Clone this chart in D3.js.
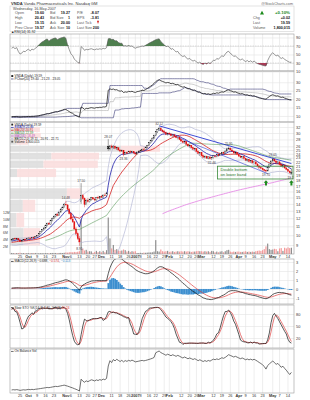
<!DOCTYPE html>
<html><head><meta charset="utf-8">
<script src="https://cdn.jsdelivr.net/npm/d3@7/dist/d3.min.js"></script>
<style>
html,body{margin:0;padding:0;background:#fff}
svg{display:block}
text{font-family:"Liberation Sans","DejaVu Sans",Arial,sans-serif}
</style></head><body>
<svg id="chart" width="310" height="400"></svg>
<script>
// ================= DATA =================
const preCloses=[9.05,8.92,8.98,9.10,9.02,8.88,8.95,9.08,9.15,9.04,9.12,9.20,9.11,9.05,9.18,9.25,9.16,9.22,9.30,9.21,9.15,9.26,9.34,9.28,9.20,9.31,9.40,9.36,9.45];
const preVolumes=[0.30,0.25,0.28,0.33,0.24,0.29,0.22,0.31,0.35,0.23,0.27,0.30,0.26,0.22,0.32,0.34,0.25,0.28,0.31,0.24,0.26,0.29,0.33,0.27,0.23,0.30,0.36,0.28,0.32];
const opens=[9.45,9.58,9.66,9.60,9.68,9.50,9.36,9.42,9.55,9.52,9.64,9.70,9.62,9.76,9.72,9.86,9.95,10.15,10.40,10.62,10.80,11.10,11.38,11.25,11.70,12.00,12.25,12.50,12.38,12.82,13.20,13.45,13.95,13.85,13.20,12.60,11.90,11.55,10.70,10.15,9.65,14.40,15.30,14.80,13.90,14.50,14.35,14.70,14.95,14.75,14.60,15.00,14.90,15.15,15.05,15.40,15.30,26.00,25.30,26.10,25.70,26.00,25.45,25.60,25.00,24.70,24.95,23.90,24.30,24.10,24.60,24.40,24.65,24.20,23.95,24.45,24.60,24.90,25.20,25.10,25.70,26.30,27.00,27.70,28.40,29.30,30.40,31.10,31.50,30.90,30.50,30.10,29.60,29.90,29.70,29.10,29.40,28.95,28.50,28.70,27.95,27.50,27.10,27.35,26.60,26.10,26.30,25.60,25.20,25.40,24.60,24.10,24.30,23.50,23.10,23.40,22.90,23.20,22.75,23.00,23.45,23.30,23.75,23.50,23.95,24.30,24.10,24.70,25.30,25.50,25.00,24.70,24.20,24.35,23.80,23.40,23.10,23.30,22.80,22.40,22.60,22.10,22.30,21.80,22.00,21.50,21.05,20.70,20.55,20.25,20.05,19.95,20.80,21.50,22.20,22.60,22.20,21.80,22.00,21.40,21.00,21.20,20.60,20.30,19.90,19.60];
const highs=[9.62,9.70,9.75,9.72,9.70,9.55,9.48,9.60,9.66,9.70,9.75,9.78,9.80,9.85,9.90,10.00,10.20,10.45,10.70,10.90,11.20,11.45,11.50,11.80,12.10,12.35,12.60,12.70,12.90,13.30,13.60,14.10,14.48,13.95,13.40,12.80,12.20,11.60,10.90,10.40,9.90,17.50,15.60,15.00,14.70,14.90,14.80,15.10,15.05,15.00,15.10,15.30,15.25,15.40,15.50,15.70,15.90,28.07,26.40,26.50,26.30,26.20,25.90,25.70,25.20,25.10,25.00,24.50,24.60,24.80,24.90,24.80,24.70,24.40,24.60,24.90,25.10,25.40,25.60,25.90,26.40,27.20,27.90,28.60,29.50,30.60,31.40,32.12,31.90,31.30,31.00,30.50,30.10,30.30,29.90,29.60,29.70,29.20,28.90,28.80,28.20,27.80,27.60,27.50,26.90,26.50,26.40,25.90,25.60,25.50,24.90,24.50,24.40,23.80,23.60,23.50,23.40,23.40,23.20,23.60,23.70,23.90,24.00,24.10,24.50,24.60,24.90,25.60,25.95,25.70,25.40,24.90,24.60,24.50,24.00,23.70,23.50,23.40,23.00,22.80,22.70,22.50,22.40,22.20,22.10,21.70,21.30,21.00,20.70,20.40,20.30,20.90,21.60,22.40,23.05,22.80,22.50,22.30,22.10,21.70,21.40,21.30,20.90,20.50,20.10,20.43];
const lows=[9.40,9.50,9.55,9.52,9.45,9.30,9.28,9.38,9.46,9.48,9.55,9.58,9.60,9.65,9.70,9.80,9.90,10.10,10.35,10.50,10.75,11.00,11.15,11.20,11.60,11.90,12.10,12.25,12.30,12.75,13.05,13.40,13.70,13.10,12.50,11.80,11.40,10.60,10.00,9.50,8.91,14.00,14.60,13.50,13.80,14.20,14.20,14.50,14.60,14.40,14.50,14.80,14.70,14.90,14.95,15.20,15.20,24.80,24.90,25.40,25.30,25.20,25.00,24.80,24.40,24.50,23.36,23.70,23.90,24.00,24.20,24.20,24.00,23.70,23.80,24.20,24.30,24.60,24.90,25.00,25.50,26.10,26.80,27.40,28.20,29.10,30.00,30.70,30.60,30.20,29.80,29.30,29.20,29.40,28.90,28.70,28.80,28.30,28.00,27.80,27.30,26.90,26.80,26.40,25.90,25.70,25.40,25.00,24.80,24.40,23.90,23.50,23.30,22.90,22.80,22.70,22.60,22.50,22.46,22.80,23.00,23.10,23.30,23.40,23.80,23.90,24.00,24.50,25.00,24.80,24.50,24.00,23.80,23.60,23.20,22.90,22.70,22.60,22.20,22.10,21.90,21.80,21.60,21.50,21.30,20.90,20.50,20.30,20.00,19.85,19.70,19.90,20.60,21.40,22.00,22.00,21.60,21.50,21.20,20.80,20.60,20.40,20.10,19.70,19.40,19.15];
const closes=[9.58,9.66,9.60,9.68,9.50,9.36,9.42,9.55,9.52,9.64,9.70,9.62,9.76,9.72,9.86,9.95,10.15,10.40,10.62,10.80,11.10,11.38,11.25,11.70,12.00,12.25,12.50,12.38,12.82,13.20,13.45,13.95,13.85,13.20,12.60,11.90,11.55,10.70,10.15,9.65,9.30,15.30,14.80,13.90,14.50,14.35,14.70,14.95,14.75,14.60,15.00,14.90,15.15,15.05,15.40,15.30,15.75,25.30,26.10,25.70,26.00,25.45,25.60,25.00,24.70,24.95,23.90,24.30,24.10,24.60,24.40,24.65,24.20,23.95,24.45,24.60,24.90,25.20,25.10,25.70,26.30,27.00,27.70,28.40,29.30,30.40,31.10,31.50,30.90,30.50,30.10,29.60,29.90,29.70,29.10,29.40,28.95,28.50,28.70,27.95,27.50,27.10,27.35,26.60,26.10,26.30,25.60,25.20,25.40,24.60,24.10,24.30,23.50,23.10,23.40,22.90,23.20,22.75,23.00,23.45,23.30,23.75,23.50,23.95,24.30,24.10,24.70,25.30,25.50,25.00,24.70,24.20,24.35,23.80,23.40,23.10,23.30,22.80,22.40,22.60,22.10,22.30,21.80,22.00,21.50,21.05,20.70,20.55,20.25,20.05,19.95,20.80,21.50,22.20,22.60,22.20,21.80,22.00,21.40,21.00,21.20,20.60,20.30,19.90,19.57,19.59];
const volumes=[0.30,0.25,0.22,0.28,0.30,0.35,0.24,0.27,0.21,0.26,0.25,0.22,0.28,0.24,0.30,0.18,0.20,0.22,0.24,0.20,0.26,0.25,0.20,0.28,0.30,0.26,0.30,0.22,0.30,0.32,0.28,0.35,0.45,0.40,0.50,0.55,0.48,0.60,0.55,0.65,0.80,10.0,1.6,1.0,1.2,0.7,0.8,0.75,0.35,0.6,0.9,0.55,0.8,0.5,0.9,0.5,1.1,10.5,4.5,1.6,2.6,1.2,1.4,1.0,0.9,1.0,1.3,1.1,0.7,0.9,0.6,0.8,0.7,0.8,0.30,0.30,0.35,0.30,0.40,0.35,0.40,0.45,0.45,0.50,0.70,4.0,0.80,0.70,1.3,0.8,0.7,0.8,0.9,0.6,0.7,0.8,0.6,0.7,0.8,0.7,0.8,0.7,0.8,0.7,0.8,0.7,0.6,0.7,0.7,0.8,0.9,0.8,0.8,0.7,0.8,0.7,0.8,0.6,0.9,0.8,0.5,0.7,0.5,0.7,0.8,0.5,0.8,1.1,1.2,0.7,0.6,0.7,0.6,0.7,0.7,0.6,0.6,0.7,0.8,0.6,0.7,0.6,0.7,0.6,0.8,0.9,1.0,0.9,1.1,1.4,2.2,3.0,1.4,1.2,1.3,1.5,1.4,0.8,1.6,1.7,0.9,1.8,1.6,1.9,1.7,1.800015];
const ma200Start=89;
const ma200=[12.60,12.70,12.80,12.90,12.99,13.08,13.17,13.26,13.35,13.44,13.53,13.62,13.71,13.80,13.89,13.97,14.05,14.13,14.21,14.29,14.37,14.45,14.53,14.61,14.68,14.76,14.83,14.91,14.98,15.06,15.13,15.21,15.28,15.36,15.43,15.51,15.58,15.66,15.73,15.81,15.88,15.96,16.03,16.11,16.18,16.25,16.32,16.39,16.45,16.52,16.59,16.66,16.72,16.79,16.86,16.93,16.99,17.06,17.13,17.20,17.26,17.33,17.40,17.47,17.53,17.61,17.69,17.77,17.85,17.93,18.01,18.09,18.17,18.25,18.33,18.41,18.49];
const holidays=["2006-11-23","2006-12-25","2007-01-01","2007-01-02","2007-01-15","2007-02-19","2007-04-06"];
const xTicks=[["2006-09-25","25"],["2006-10-02","Oct"],["2006-10-09","9"],["2006-10-16","16"],["2006-10-23","23"],["2006-11-01","Nov"],["2006-11-06","6"],["2006-11-13","13"],["2006-11-20","20"],["2006-11-27","27"],["2006-12-01","Dec"],["2006-12-11","11"],["2006-12-18","18"],["2006-12-26","26"],["2007-01-03","2007"],["2007-01-08","8"],["2007-01-16","16"],["2007-01-22","22"],["2007-01-29","29"],["2007-02-01","Feb"],["2007-02-12","12"],["2007-02-20","20"],["2007-02-26","26"],["2007-03-01","Mar"],["2007-03-12","12"],["2007-03-19","19"],["2007-03-26","26"],["2007-04-02","Apr"],["2007-04-09","9"],["2007-04-16","16"],["2007-04-23","23"],["2007-05-01","May"],["2007-05-07","7"],["2007-05-14","14"]];
const priceTicks=[32,30,28,26,25,24,23,22,21,20,19,18,17,16,15,14,13,12,11,10,9];
const pcTicks=[30,25,20,15,10];
const rsiTicks=[90,70,50,30,10];
const macdTicks=[3,2,1,0,-1];
const stoTicks=[80,50,20];
const volTicks=[2,4,6,8,10,12];
const hiLoMarks=[[32,"h"],[40,"l"],[41,"h"],[57,"h"],[66,"l"],[87,"h"],[118,"l"],[128,"h"],[150,"l"],[154,"h"],[165,"l"]];
const trendLines=[[[87,32.4],[165,21.6]],[[87,31.0],[151,19.4]]];
const arrowDays=[150,165];
const noteLines=["Double bottom","on lower band"];
const hdrTitle=["VNDA"," Vanda Pharmaceuticals Inc.  Nasdaq GM"];
const hdrDate="Wednesday, 16-May-2007";
const hdrRows=[["Open","19.60","Bid","19.27","P/E","-8.07"],["High","20.43","Bid Size","1","EPS","-3.81"],["Low","19.15","Ask","20.00","Last Tick",""],["Prev Close","19.57","Ask Size","10","Last Size","200"]];
const hdrRight=[["","+0.10%"],["Chg","+0.02"],["Last","19.59"],["Volume","1,800,015"]];

// ================= SETUP =================
const svg=d3.select("#chart");
const L=10,R=294;
const N=closes.length,P=preCloses.length;
const fmtD=d3.utcFormat("%Y-%m-%d"),parse=d3.utcParse("%Y-%m-%d");
const hol=new Set(holidays);
const dates=d3.utcDays(parse("2006-09-18"),parse("2007-05-17")).filter(d=>d.getUTCDay()%6!==0&&!hol.has(fmtD(d))).map(fmtD).slice(0,N);
const x=d3.scaleBand().domain(d3.range(N)).range([11,292]).paddingInner(0.3);
const cx=i=>x(i)+x.bandwidth()/2;
const tickIdx=xTicks.map(t=>[dates.indexOf(t[0]),t[1]]).filter(t=>t[0]>=0);

// ---------- indicators ----------
const fc=preCloses.concat(closes),fh=preCloses.concat(highs),fl=preCloses.concat(lows);
function sma(a,n){return a.map((v,i)=>{if(i<n-1)return null;const w=a.slice(i-n+1,i+1);if(w.some(z=>z==null))return null;return d3.mean(w);});}
function ema(a,n){const k=2/(n+1);let e=null;return a.map(v=>{if(v==null)return null;e=e==null?v:e+k*(v-e);return e;});}
function rsiCalc(a,n){const o=a.map(()=>null);let g=0,l=0;for(let i=1;i<a.length;i++){const d=a[i]-a[i-1],G=Math.max(d,0),Lo=Math.max(-d,0);if(i<=n){g+=G;l+=Lo;if(i===n){g/=n;l/=n;o[i]=100-100/(1+g/(l||1e-9));}}else{g=(g*(n-1)+G)/n;l=(l*(n-1)+Lo)/n;o[i]=100-100/(1+g/(l||1e-9));}}return o;}
const disp=a=>a.slice(P);
const ema9=disp(ema(fc,9)),ma20=disp(sma(fc,20)),ma50=disp(sma(fc,50));
const bbU=[],bbL=[];
fc.forEach((v,i)=>{if(i<19){bbU.push(null);bbL.push(null);return;}const w=fc.slice(i-19,i+1),m=d3.mean(w),sd=Math.sqrt(d3.mean(w,z=>(z-m)*(z-m)));bbU.push(m+2*sd);bbL.push(m-2*sd);});
const bbUp=disp(bbU),bbLo=disp(bbL);
const rsi=disp(rsiCalc(fc,14));
const e12=ema(fc,12),e26=ema(fc,26);
const macdF=fc.map((v,i)=>e12[i]-e26[i]);
const sigF=ema(macdF,9);
const macd=disp(macdF),sig=disp(sigF),hist=macd.map((v,i)=>v-sig[i]);
const rawK=fc.map((c,i)=>{if(i<13)return null;const hh=d3.max(fh.slice(i-13,i+1)),ll=d3.min(fl.slice(i-13,i+1));return hh===ll?50:(c-ll)/(hh-ll)*100;});
const slowKF=sma(rawK,3),slowDF=sma(slowKF,3);
const slowK=disp(slowKF),slowD=disp(slowDF);
const pcU=[],pcL=[];
for(let i=0;i<fc.length;i++){if(i<20){pcU.push(null);pcL.push(null);continue;}pcU.push(d3.max(fh.slice(i-20,i)));pcL.push(d3.min(fl.slice(i-20,i)));}
const pcUp=disp(pcU),pcLo=disp(pcL),pcMid=pcUp.map((v,i)=>v==null?null:(v+pcLo[i])/2);
const obv=[];{let s=0;closes.forEach((c,i)=>{const p=i===0?preCloses[P-1]:closes[i-1];if(c>p)s+=volumes[i];else if(c<p)s-=volumes[i];obv.push(s);});}
const ma200Full=closes.map((c,i)=>i>=ma200Start?ma200[i-ma200Start]:null);

// ---------- helpers ----------
const defs=svg.append("defs");
let clipN=0;
function panel(top,bot){
  const id="cp"+(clipN++);
  defs.append("clipPath").attr("id",id).append("rect").attr("x",L).attr("y",top).attr("width",R-L).attr("height",bot-top);
  const g=svg.append("g");
  g.selectAll("line.v").data(tickIdx).join("line").attr("x1",d=>cx(d[0])).attr("x2",d=>cx(d[0])).attr("y1",top).attr("y2",bot).attr("stroke","#e2e2e2").attr("stroke-width",0.6);
  const content=svg.append("g").attr("clip-path",`url(#${id})`);
  const frame=()=>svg.append("rect").attr("x",L).attr("y",top).attr("width",R-L).attr("height",bot-top).attr("fill","none").attr("stroke","#9c9c9c").attr("stroke-width",0.6);
  return {g,content,frame,top,bot};
}
function hGrid(p,y,ticks,fmt){
  p.g.append("g").attr("transform",`translate(${L},0)`).call(d3.axisLeft(y).tickValues(ticks).tickSize(-(R-L)).tickFormat(""))
    .call(a=>a.select(".domain").remove()).call(a=>a.selectAll("line").attr("stroke","#e2e2e2").attr("stroke-width",0.6));
  svg.append("g").attr("transform",`translate(${R},0)`).call(d3.axisRight(y).tickValues(ticks).tickSize(0).tickPadding(2).tickFormat(fmt||(d=>d)))
    .call(a=>a.select(".domain").remove()).call(a=>a.selectAll("text").attr("font-size",3.9).attr("fill","#333").attr("font-family","Liberation Sans, Arial, sans-serif"));
}
function line(g,vals,y,color,w,dash){
  const p=g.append("path").datum(vals.map((v,i)=>[i,v])).attr("fill","none").attr("stroke",color).attr("stroke-width",w).attr("stroke-linejoin","round")
    .attr("d",d3.line().defined(d=>d[1]!=null&&!isNaN(d[1])).x(d=>cx(d[0])).y(d=>y(d[1])));
  if(dash)p.attr("stroke-dasharray",dash);
  return p;
}
function legend(yy,items,fs){
  fs=fs||3.4;
  items.forEach((it,k)=>{
    const yb=yy+k*(fs*0.92);
    if(it.sq){svg.append("rect").attr("x",11.3).attr("y",yb-fs*0.6).attr("width",fs*0.6).attr("height",fs*0.6).attr("fill",it.sq);}
    else if(it.ln){svg.append("line").attr("x1",11).attr("x2",13.6).attr("y1",yb-fs*0.3).attr("y2",yb-fs*0.3).attr("stroke",it.ln).attr("stroke-width",0.7);}
    const t=svg.append("text").attr("x",14.5).attr("y",yb).attr("font-size",fs).attr("fill",it.color||"#222");
    if(it.parts){it.parts.forEach(pp=>t.append("tspan").attr("fill",pp[1]).text(pp[0]));}else t.text(it.text);
  });
}
const f2=d3.format(".2f"),f3=d3.format(".3f");
function xLabels(yy){
  svg.append("g").selectAll("text").data(tickIdx).join("text").attr("x",d=>cx(d[0])).attr("y",yy).attr("text-anchor","middle")
    .attr("font-size",3.9).attr("fill","#333").attr("font-weight",d=>/^[A-Z]|2007/.test(d[1])?"bold":"normal").text(d=>d[1]);
}

// ================= HEADER =================
const ht=svg.append("text").attr("x",11).attr("y",4.6).attr("font-size",4.1).attr("fill","#333");
ht.append("tspan").attr("font-weight","bold").text(hdrTitle[0]);
ht.append("tspan").text(hdrTitle[1]);
svg.append("text").attr("x",293).attr("y",4.6).attr("text-anchor","end").attr("font-size",3.7).attr("fill","#666").text("@StockCharts.com");
svg.append("rect").attr("x",L).attr("y",6).attr("width",R-L).attr("height",25.5).attr("fill","none").attr("stroke","#d0d0d0").attr("stroke-width",0.6);
svg.append("text").attr("x",13).attr("y",10).attr("font-size",3.7).attr("fill","#444").text(hdrDate);
const rowY=[14.4,19.2,24.0,28.8];
const colX=[[15,44],[50,70],[77,99]];
hdrRows.forEach((r,k)=>{
  colX.forEach((c,j)=>{
    svg.append("text").attr("x",c[0]).attr("y",rowY[k]).attr("font-size",3.7).attr("fill","#555").text(r[j*2]);
    svg.append("text").attr("x",c[1]).attr("y",rowY[k]).attr("text-anchor","end").attr("font-size",3.7).attr("fill","#111").attr("font-weight","bold").text(r[j*2+1]);
  });
});
svg.append("path").attr("d",`M97,${rowY[2]-3.3}L99,${rowY[2]-3.3}L98,${rowY[2]}Z`).attr("fill","#d01010");
hdrRight.forEach((r,k)=>{
  svg.append("text").attr("x",253).attr("y",rowY[k]).attr("font-size",3.7).attr("fill","#555").text(r[0]);
  svg.append("text").attr("x",290).attr("y",rowY[k]).attr("text-anchor","end").attr("font-size",k===0?4.4:3.7).attr("font-weight","bold").attr("fill",k===0?"#1a8a1a":"#111").text(r[1]);
});
svg.append("path").attr("d",`M260,${rowY[0]}L262,${rowY[0]-3.6}L264,${rowY[0]}Z`).attr("fill","#1a8a1a");

// ================= RSI PANEL =================
{
  const p=panel(34,71);
  const y=d3.scaleLinear().domain([0,100]).range([75.75,33.25]);
  hGrid(p,y,rsiTicks);
  [70,30].forEach(v=>p.content.append("line").attr("x1",L).attr("x2",R).attr("y1",y(v)).attr("y2",y(v)).attr("stroke","#b8b8b8").attr("stroke-width",0.5).attr("stroke-dasharray","1.5,1"));
  const vals=rsi.map((v,i)=>[i,v]);
  p.content.append("path").datum(vals).attr("fill","#4f7f4f").attr("d",d3.area().defined(d=>d[1]!=null).x(d=>cx(d[0])).y0(y(70)).y1(d=>y(Math.max(70,d[1]))));
  p.content.append("path").datum(vals).attr("fill","#a83a55").attr("d",d3.area().defined(d=>d[1]!=null).x(d=>cx(d[0])).y0(y(30)).y1(d=>y(Math.min(30,d[1]))));
  line(p.content,rsi,y,"#555",0.6);
  p.frame();
  svg.append("text").attr("x",11).attr("y",33.2).attr("font-size",3.4).attr("fill","#222").text("\u25B2RSI(14) "+f2(rsi[N-1]));
}

// ================= PRICE CHANNEL PANEL =================
{
  const p=panel(71,122);
  const y=d3.scaleLinear().domain([6.4,36.7]).range([122,71]);
  hGrid(p,y,pcTicks);
  line(p.content,pcMid,y,"#a0a0a0",0.5);
  line(p.content,pcUp,y,"#3b3b78",0.6);
  line(p.content,pcLo,y,"#3b3b78",0.6);
  line(p.content,closes,y,"#222",0.8);
  p.frame();
  legend(77,[{sq:"#222",text:"VNDA (Daily) "+f2(closes[N-1])},{ln:"#3b3b78",text:"PChan(20) "+f2(pcLo[N-1])+" - "+f2(pcMid[N-1])+" - "+f2(pcUp[N-1])}],3.2);
}

// ================= MAIN PANEL =================
{
  const top=122,bot=254;
  const p=panel(top,bot);
  const y=d3.scaleLog().domain([8.17,33.77]).range([bot,top]);
  const yv=d3.scaleLinear().domain([0,38]).range([bot,top]);
  hGrid(p,y,priceTicks);
  const lo=d3.min(lows),hi=d3.max(highs),zw=(hi-lo)/12;
  const zones=d3.range(12).map(z=>({lo:lo+z*zw,hi:lo+(z+1)*zw,up:0,dn:0}));
  closes.forEach((c,i)=>{const z=Math.min(11,Math.floor((c-lo)/zw));const pr=i===0?preCloses[P-1]:closes[i-1];if(c>=pr)zones[z].up+=volumes[i];else zones[z].dn+=volumes[i];});
  const vx=d3.scaleLinear().domain([0,d3.max(zones,d=>d.up+d.dn)]).range([0,150]);
  const zg=p.content.append("g").attr("opacity",0.9);
  zg.selectAll("rect.u").data(zones).join("rect").attr("x",L).attr("y",d=>y(d.hi)+0.5).attr("height",d=>Math.max(0,y(d.lo)-y(d.hi)-1)).attr("width",d=>vx(d.up)).attr("fill","#dedede");
  zg.selectAll("rect.d").data(zones).join("rect").attr("x",d=>L+vx(d.up)).attr("y",d=>y(d.hi)+0.5).attr("height",d=>Math.max(0,y(d.lo)-y(d.hi)-1)).attr("width",d=>vx(d.dn)).attr("fill","#fbdede");
  p.content.selectAll("rect.vol").data(volumes).join("rect").attr("x",(d,i)=>x(i)).attr("width",x.bandwidth()).attr("y",d=>yv(d)).attr("height",d=>bot-yv(d))
    .attr("fill",(d,i)=>{const pr=i===0?preCloses[P-1]:closes[i-1];return closes[i]<pr?"#f29a9a":"#8f8f8f";});
  line(p.content,bbUp,y,"#a9acd0",0.6);
  line(p.content,bbLo,y,"#a9acd0",0.6);
  line(p.content,ma200Full,y,"#e58ae5",0.9);
  line(p.content,ma50,y,"#5a9a5a",0.6);
  line(p.content,ma20,y,"#d42020",0.8);
  line(p.content,ema9,y,"#1c1ca8",0.8);
  trendLines.forEach((t,k)=>p.content.append("line").attr("x1",cx(t[0][0])).attr("y1",y(t[0][1])).attr("x2",cx(t[1][0])).attr("y2",y(t[1][1])).attr("stroke","#2a3ad0").attr("stroke-width",k===0?0.9:0.6));
  const cg=p.content.append("g");
  closes.forEach((c,i)=>{
    const o=opens[i],pr=i===0?preCloses[P-1]:closes[i-1];
    const col=c<pr?"#e01010":"#111";
    cg.append("line").attr("x1",cx(i)).attr("x2",cx(i)).attr("y1",y(highs[i])).attr("y2",y(lows[i])).attr("stroke",col).attr("stroke-width",0.4);
    const yt=y(Math.max(o,c)),yb=y(Math.min(o,c));
    cg.append("rect").attr("x",x(i)).attr("width",x.bandwidth()).attr("y",yt).attr("height",Math.max(0.6,yb-yt))
      .attr("fill",c>=o?"#fff":col).attr("stroke",col).attr("stroke-width",0.3);
  });
  hiLoMarks.forEach(m=>{const i=m[0];const v=m[1]==="h"?highs[i]:lows[i];
    p.content.append("text").attr("x",cx(i)).attr("y",m[1]==="h"?y(v)-1.3:y(v)+3.8).attr("text-anchor","middle").attr("font-size",3.2).attr("fill","#444").text(f2(v));});
  const bx0=cx(122)-1,bx1=R-1,by0=y(21.0),by1=y(18.3);
  svg.append("rect").attr("x",bx0).attr("y",by0).attr("width",bx1-bx0).attr("height",by1-by0).attr("fill","none").attr("stroke","#3a8a3a").attr("stroke-width",0.8);
  noteLines.forEach((t,k)=>svg.append("text").attr("x",bx0+3).attr("y",by0+5+k*4.6).attr("font-size",4.1).attr("fill","#2f7a2f").text(t));
  arrowDays.forEach(i=>{const xx=cx(i),yy=y(18.05);
    svg.append("path").attr("d",`M${xx},${yy}L${xx-2.3},${yy+2.6}L${xx-1},${yy+2.6}L${xx-1},${yy+5.2}L${xx+1},${yy+5.2}L${xx+1},${yy+2.6}L${xx+2.3},${yy+2.6}Z`).attr("fill","#1f8a1f");});
  p.frame();
  svg.append("g").selectAll("text").data(volTicks).join("text").attr("x",3).attr("y",d=>yv(d)+1.3).attr("font-size",3.4).attr("fill","#444").text(d=>d+"M");
  const fV=d3.format(",");
  legend(125.5,[
    {sq:"#222",text:"VNDA (Daily) "+f2(closes[N-1])},
    {ln:"#1c1ca8",text:"EMA(9) "+f2(ema9[N-1]),color:"#1c1ca8"},
    {ln:"#d42020",text:"MA(20) "+f2(ma20[N-1]),color:"#d42020"},
    {ln:"#4a9a4a",text:"MA(50) "+f2(ma50[N-1]),color:"#3a8a3a"},
    {ln:"#d070d0",text:"MA(200) "+f2(ma200Full[N-1]),color:"#c050c0"},
    {ln:"#9a9ac0",text:"BB(20,2.0) "+f2(bbLo[N-1])+" - "+f2(ma20[N-1])+" - "+f2(bbUp[N-1])},
    {sq:"#555",text:"Volume "+fV(Math.round(volumes[N-1]*1e6))}
  ],3.1);
}
xLabels(257.6);

// ================= MACD =================
{
  const p=panel(259,304);
  const y=d3.scaleLinear().domain([-1.67,3.33]).range([304,259]);
  hGrid(p,y,macdTicks);
  p.content.selectAll("rect.h").data(hist).join("rect").attr("x",(d,i)=>x(i)-0.2).attr("width",x.step()+0.1)
    .attr("y",d=>d>=0?y(d):y(0)).attr("height",d=>Math.abs(y(d)-y(0))).attr("fill","#3d8fcf");
  line(p.content,sig,y,"#e04040",0.7);
  line(p.content,macd,y,"#111",0.7);
  p.frame();
  legend(262.4,[{ln:"#111",parts:[["MACD(12,26,9) ","#222"],[f3(macd[N-1]),"#222"],[", ","#222"],[f3(sig[N-1]),"#d03030"],[", ","#222"],[f3(hist[N-1]),"#2b80c0"]]}],3.2);
}

// ================= SLOW STOCH =================
{
  const p=panel(305,348);
  const y=d3.scaleLinear().domain([0,100]).range([346,306]);
  hGrid(p,y,stoTicks);
  line(p.content,slowD,y,"#e04040",0.7);
  line(p.content,slowK,y,"#111",0.7);
  p.frame();
  legend(308.6,[{ln:"#111",parts:[["Slow STO %K(14,3) "+f2(slowK[N-1])+", %D(3) ","#222"],[f2(slowD[N-1]),"#d03030"]]}],3.2);
}

// ================= OBV =================
{
  const p=panel(349,393);
  const y=d3.scaleLinear().domain(d3.extent(obv)).range([391,351]);
  line(p.content,obv,y,"#333",0.7);
  p.frame();
  legend(352.4,[{ln:"#333",text:"On Balance Vol"}],3.2);
}
xLabels(397.4);
</script>
</body></html>
